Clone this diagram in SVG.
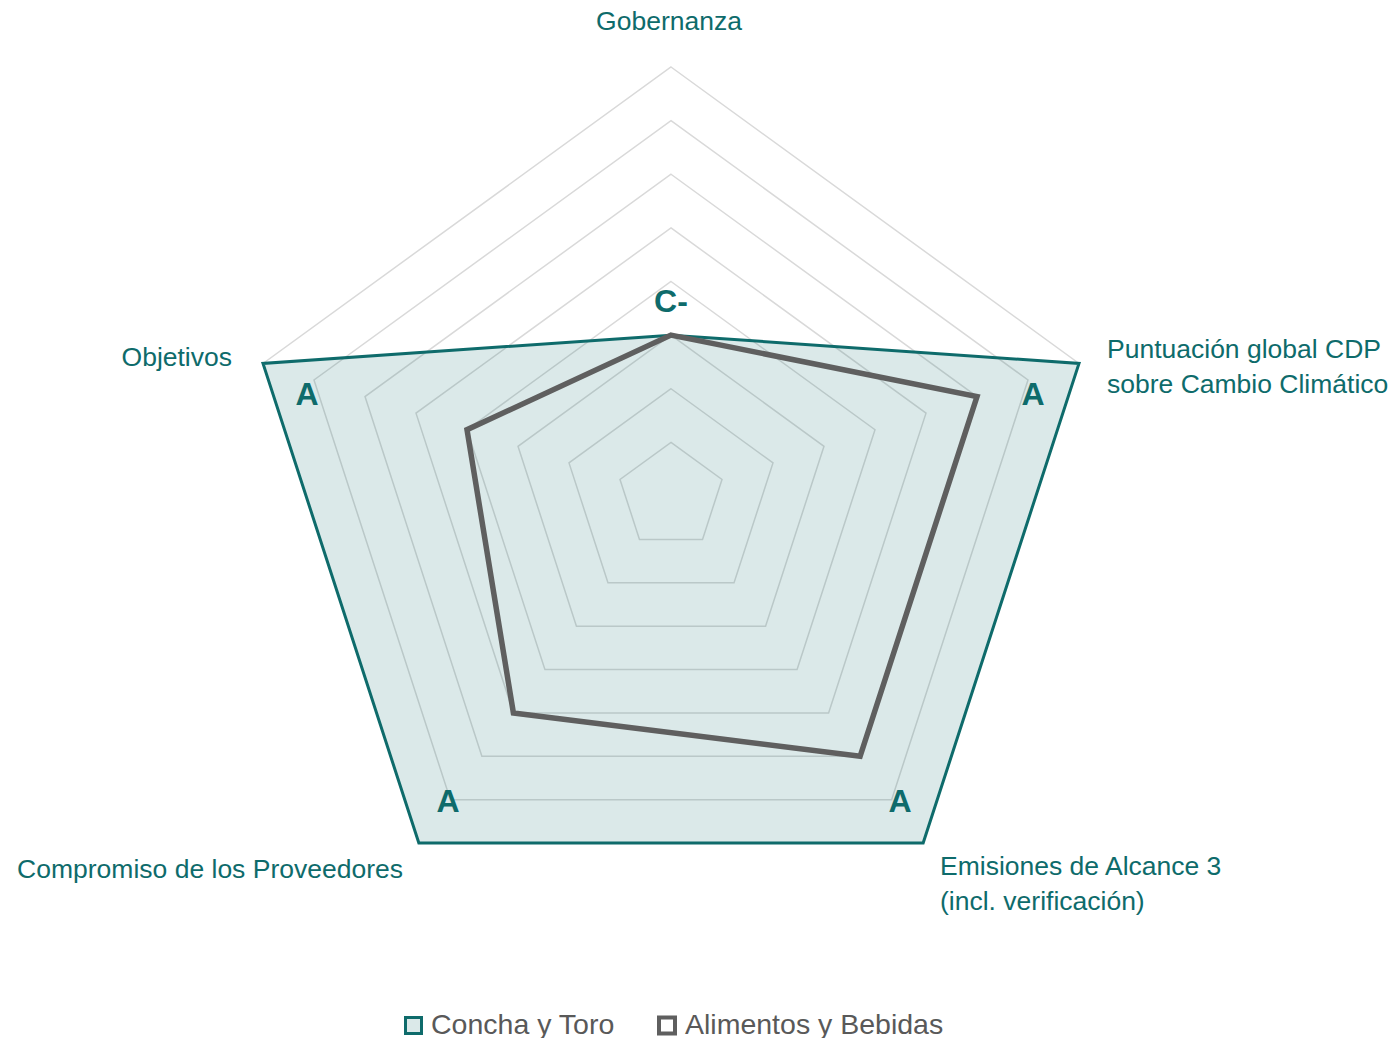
<svg xmlns="http://www.w3.org/2000/svg" width="1397" height="1038" viewBox="0 0 1397 1038">
<style>
.grid{fill:none;stroke:#D9D9D9;stroke-width:1.5}
.lbl{font-family:"Liberation Sans",Arial,sans-serif;font-size:26.5px;fill:#0E6B6B}
.val{font-family:"Liberation Sans",Arial,sans-serif;font-size:32px;font-weight:bold;fill:#0E6B6B;text-anchor:middle}
.leg{font-family:"Liberation Sans",Arial,sans-serif;font-size:28.5px;fill:#595959}
</style>
<rect width="1397" height="1038" fill="#FFFFFF"/>
<g id="grid">
<polygon class="grid" points="671,442.38 722,479.43 702.52,539.38 639.48,539.38 620,479.43"/>
<polygon class="grid" points="671,388.75 773,462.86 734.04,582.77 607.96,582.77 569,462.86"/>
<polygon class="grid" points="671,335.13 824,446.29 765.56,626.15 576.44,626.15 518,446.29"/>
<polygon class="grid" points="671,281.5 875,429.72 797.08,669.53 544.92,669.53 467,429.72"/>
<polygon class="grid" points="671,227.88 926,413.14 828.6,712.92 513.4,712.92 416,413.14"/>
<polygon class="grid" points="671,174.25 977,396.57 860.12,756.3 481.88,756.3 365,396.57"/>
<polygon class="grid" points="671,120.63 1028,380 891.64,799.68 450.36,799.68 314,380"/>
<polygon class="grid" points="671,67 1079,363.43 923.16,843.07 418.84,843.07 263,363.43"/>
</g>
<g id="series-concha">
<polygon points="671,335.13 1079,363.43 923.16,843.07 418.84,843.07 263,363.43" fill="#0E6B6B" fill-opacity="0.15" stroke="#0E6B6B" stroke-width="3" stroke-linejoin="miter"/>
</g>
<g id="series-alimentos">
<polygon points="671,335.13 977,396.57 860.12,756.3 513.4,712.92 467,429.72" fill="none" stroke="#5F5F5F" stroke-width="5.5" stroke-linejoin="miter"/>
</g>
<g id="values">
<text class="val" x="671" y="312">C-</text>
<text class="val" x="307" y="405">A</text>
<text class="val" x="1033" y="405">A</text>
<text class="val" x="448" y="812">A</text>
<text class="val" x="900" y="812">A</text>
</g>
<g id="axis-labels">
<text class="lbl" x="669" y="30" text-anchor="middle">Gobernanza</text>
<text class="lbl" x="1107" y="358">Puntuación global CDP</text>
<text class="lbl" x="1107" y="393">sobre Cambio Climático</text>
<text class="lbl" x="940" y="875">Emisiones de Alcance 3</text>
<text class="lbl" x="940" y="910">(incl. verificación)</text>
<text class="lbl" x="403" y="878" text-anchor="end">Compromiso de los Proveedores</text>
<text class="lbl" x="232" y="366" text-anchor="end">Objetivos</text>
</g>
<g id="legend">
<rect x="405.5" y="1017.5" width="16" height="16" fill="#DBE9E9" stroke="#0E6B6B" stroke-width="3"/>
<text class="leg" x="431" y="1034">Concha y Toro</text>
<rect x="659" y="1017.5" width="16" height="16" fill="#FFFFFF" stroke="#5F5F5F" stroke-width="4"/>
<text class="leg" x="685" y="1034">Alimentos y Bebidas</text>
</g>
</svg>
